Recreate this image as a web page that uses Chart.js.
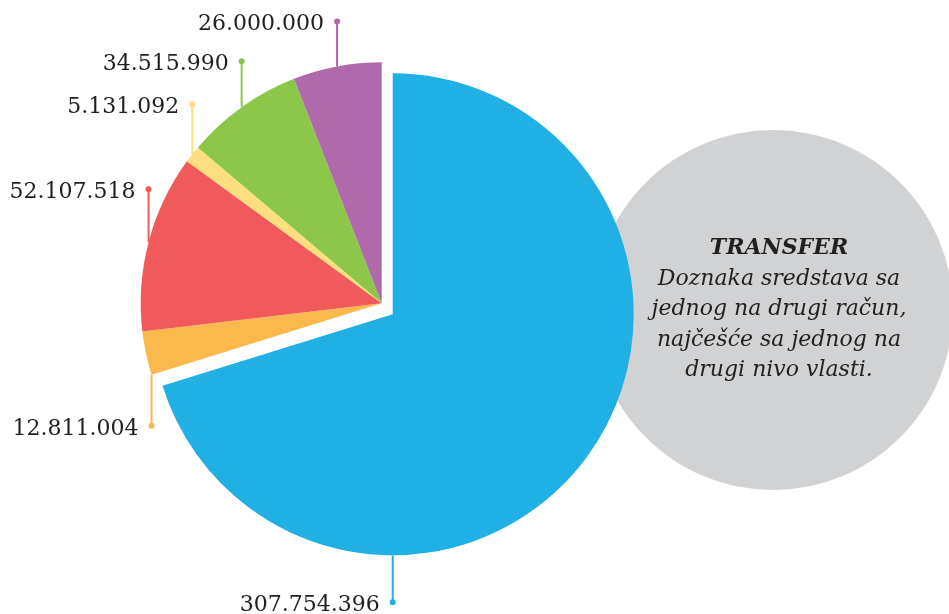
<!DOCTYPE html>
<html>
<head>
<meta charset="utf-8">
<script src="https://cdn.jsdelivr.net/npm/chart.js@4"></script>
<style>
    html, body { margin: 0; padding: 0; background: #fff; }
    #wrap { width: 949px; height: 614px; position: relative; }
</style>
</head>
<body>
<div id="wrap"><canvas id="grafico-transfer"></canvas></div>
<script>
// podaci (redom od vrha, u smjeru kazaljke)
const kategorije = ['A', 'B', 'C', 'D', 'E', 'F'];
const iznosi = [307754396, 12811004, 52107518, 5131092, 34515990, 26000000];
const oznake = ['307.754.396', '12.811.004', '52.107.518', '5.131.092', '34.515.990', '26.000.000'];
const boje = ['#21b0e4', '#fbb84c', '#f05a5b', '#fddf7f', '#8cc74a', '#b06aab'];

const naslov = 'TRANSFER';
const opisLinije = ['Doznaka sredstava sa', 'jednog na drugi račun,', 'najčešće sa jednog na', 'drugi nivo vlasti.'];

const TEKST = '#231f20';

/* ===== izdvojeni (plavi) isječak ===== */
const izdvoji = {
    id: 'izdvoji',
    afterDatasetUpdate(chart, args) {
        const arc = args.meta.data[0];
        if (!arc) return;
        arc.x += 11;
        arc.y += 11;
    }
};

/* ===== sivi krug sa tekstom ===== */
const sivKrug = {
    id: 'sivKrug',
    beforeDatasetsDraw(chart) {
        const ctx = chart.ctx;
        ctx.save();
        ctx.fillStyle = '#d1d2d4';
        ctx.beginPath();
        ctx.arc(773, 310, 180, 0, Math.PI * 2);
        ctx.fill();

        ctx.fillStyle = TEKST;
        ctx.textAlign = 'center';
        ctx.textBaseline = 'alphabetic';
        ctx.font = 'italic bold 22px "DejaVu Serif"';
        ctx.fillText(naslov, 779, 254);
        ctx.font = 'italic 22px "DejaVu Serif"';
        opisLinije.forEach((l, i) => ctx.fillText(l, 779, 285 + i * 30.3));
        ctx.restore();
    }
};

/* ===== oznake sa linijama ===== */
const oznakeLinije = {
    id: 'oznakeLinije',
    afterDatasetsDraw(chart) {
        const ctx = chart.ctx;
        const arcs = chart.getDatasetMeta(0).data;
        // gdje linija dodiruje isječak i koliko je duga (negativno = prema gore)
        const duzine = [47, 51, -53, -50, -46, -45];
        ctx.save();
        arcs.forEach((arc, i) => {
            let ugao = (arc.startAngle + arc.endAngle) / 2;
            if (i === 0) ugao = Math.PI / 2;
            if (i === 1) ugao = arc.startAngle;
            const r = arc.outerRadius;
            const x = arc.x + Math.cos(ugao) * r;
            const y = arc.y + Math.sin(ugao) * r;
            const y2 = y + duzine[i];

            ctx.strokeStyle = boje[i];
            ctx.fillStyle = boje[i];
            ctx.lineWidth = 2;
            ctx.beginPath();
            ctx.moveTo(x, y);
            ctx.lineTo(x, y2);
            ctx.stroke();
            ctx.beginPath();
            ctx.arc(x, y2, 3, 0, Math.PI * 2);
            ctx.fill();

            ctx.fillStyle = TEKST;
            ctx.font = '22px "DejaVu Serif"';
            ctx.textAlign = 'right';
            ctx.textBaseline = 'alphabetic';
            ctx.fillText(oznake[i], x - 13, y2 + 9);
        });
        ctx.restore();
    }
};

new Chart(document.getElementById('grafico-transfer'), {
    type: 'pie',
    data: {
        labels: kategorije,
        datasets: [{
            data: iznosi,
            backgroundColor: boje,
            borderWidth: 0,
            hoverOffset: 0
        }]
    },
    options: {
        responsive: true,
        maintainAspectRatio: false,
        animation: false,
        events: [],
        radius: 241,
        layout: { padding: { left: 0, right: 185.6, top: 0, bottom: 7.4 } },
        plugins: {
            legend: { display: false },
            tooltip: { enabled: false }
        }
    },
    plugins: [izdvoji, sivKrug, oznakeLinije]
});
</script>
</body>
</html>
